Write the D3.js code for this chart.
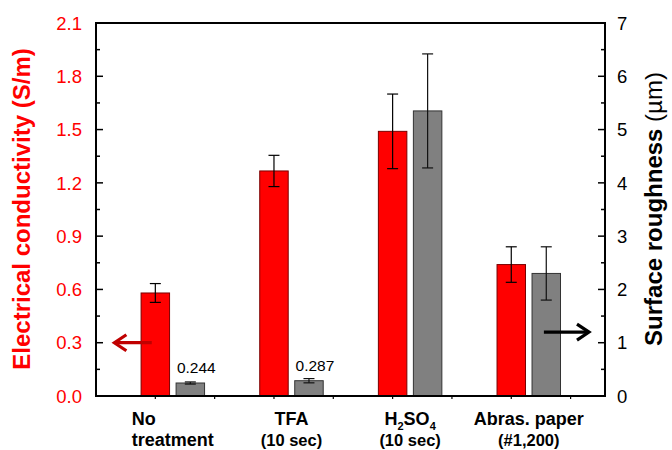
<!DOCTYPE html>
<html><head><meta charset="utf-8">
<script src="https://cdn.jsdelivr.net/npm/d3@7"></script>
<style>body{margin:0;background:#fff} svg{display:block} text{font-family:"Liberation Sans",Arial,sans-serif}</style>
</head><body><svg id="c" width="672" height="450"></svg>
<script>
// ---- data ----
const categories = ["No treatment", "TFA (10 sec)", "H2SO4 (10 sec)", "Abras. paper (#1,200)"];
const conductivity = [0.58, 1.267, 1.49, 0.74];
const conductivityErr = [0.053, 0.088, 0.21, 0.10];
const roughness = [0.244, 0.287, 5.35, 2.30];
const roughnessErr = [0.02, 0.04, 1.07, 0.50];
const roughnessLabels = ["0.244", "0.287", "", ""];
const leftTicks = [0, 0.3, 0.6, 0.9, 1.2, 1.5, 1.8, 2.1];
const rightTicks = [0, 1, 2, 3, 4, 5, 6, 7];
const xTicks = [1, 2, 3, 4, 5, 6, 7, 8];

const svg = d3.select("#c");
const L = 96, R = 605, T = 23, B = 396;
const x = d3.scaleLinear().domain([0, 8.58]).range([L, R]);
const yL = d3.scaleLinear().domain([0, 2.1]).range([B, T]);
const yR = d3.scaleLinear().domain([0, 7]).range([B, T]);
const bw = 0.48;
const redC = i => 2 * i + 1;
const grayC = i => 2 * i + 1.59;

// bars
const g = svg.append("g");
g.selectAll("rect.red").data(conductivity).join("rect")
  .attr("x", (d, i) => x(redC(i) - bw / 2)).attr("width", x(bw) - x(0))
  .attr("y", d => yL(d)).attr("height", d => B - yL(d))
  .attr("fill", "#ff0000").attr("stroke", "#7a0000").attr("stroke-width", 1);
g.selectAll("rect.gray").data(roughness).join("rect")
  .attr("x", (d, i) => x(grayC(i) - bw / 2)).attr("width", x(bw) - x(0))
  .attr("y", d => yR(d)).attr("height", d => B - yR(d))
  .attr("fill", "#808080").attr("stroke", "#333").attr("stroke-width", 1);

// error bars
function errBars(vals, errs, yS, cFn, col) {
  vals.forEach((v, i) => {
    const cx = x(cFn(i)), y1 = yS(v + errs[i]), y2 = yS(v - errs[i]);
    const e = svg.append("g").attr("stroke", col).attr("stroke-width", 1.2);
    e.append("line").attr("x1", cx).attr("x2", cx).attr("y1", y1).attr("y2", y2);
    e.append("line").attr("x1", cx - 5.5).attr("x2", cx + 5.5).attr("y1", y1).attr("y2", y1);
    e.append("line").attr("x1", cx - 5.5).attr("x2", cx + 5.5).attr("y1", y2).attr("y2", y2);
  });
}
errBars(conductivity, conductivityErr, yL, redC, "#000");
errBars(roughness, roughnessErr, yR, grayC, "#111");

// value labels
svg.selectAll("text.vl").data(roughness).join("text")
  .attr("x", (d, i) => x(grayC(i)) + 6).attr("y", d => yR(d) - 10)
  .attr("text-anchor", "middle").attr("font-size", 15.5).attr("fill", "#000")
  .text((d, i) => roughnessLabels[i]);

// frame
const fr = svg.append("g").attr("stroke", "#000").attr("stroke-width", 2).attr("fill", "none");
fr.append("path").attr("d", `M${L},${T}H${R}V${B}H${L}Z`);

// ticks (inward) major + minor
const minorL = d3.range(0, 2.1001, 0.15);
svg.append("g").selectAll("line").data(minorL).join("line")
  .attr("x1", L).attr("x2", (d, i) => L + (i % 2 === 0 ? 7 : 4))
  .attr("y1", d => yL(d)).attr("y2", d => yL(d)).attr("stroke", "#000").attr("stroke-width", 1.5);
const minorR = d3.range(0, 7.001, 0.5);
svg.append("g").selectAll("line").data(minorR).join("line")
  .attr("x1", R).attr("x2", (d, i) => R - (i % 2 === 0 ? 7 : 4))
  .attr("y1", d => yR(d)).attr("y2", d => yR(d)).attr("stroke", "#000").attr("stroke-width", 1.5);
svg.append("g").selectAll("line").data(xTicks).join("line")
  .attr("x1", d => x(d)).attr("x2", d => x(d)).attr("y1", B).attr("y2", B + 3)
  .attr("stroke", "#000").attr("stroke-width", 1.2);

// tick labels
svg.append("g").selectAll("text").data(leftTicks).join("text")
  .attr("x", L - 14).attr("y", d => yL(d)).attr("dy", "0.36em")
  .attr("text-anchor", "end").attr("font-size", 18.5).attr("fill", "#ff0000")
  .text(d => d.toFixed(1));
svg.append("g").selectAll("text").data(rightTicks).join("text")
  .attr("x", R + 12).attr("y", d => yR(d)).attr("dy", "0.36em")
  .attr("text-anchor", "start").attr("font-size", 18.5).attr("fill", "#000")
  .text(d => d);

// axis titles
svg.append("text").attr("transform", `translate(30,209) rotate(-90)`)
  .attr("text-anchor", "middle").attr("font-size", 24).attr("font-weight", "bold")
  .attr("fill", "#ff0000").text("Electrical conductivity (S/m)");
const rt = svg.append("text").attr("transform", `translate(662,209) rotate(-90)`)
  .attr("text-anchor", "middle").attr("font-size", 24).attr("fill", "#000");
rt.append("tspan").attr("font-weight", "bold").text("Surface roughness ");
rt.append("tspan").text("(\u00b5m)");

// category labels
const gc = i => x(2 * i + 1.295);
const line1 = 425, line2 = 446;
const t2 = svg.append("text").attr("x", gc(0)).attr("y", line2).attr("text-anchor", "middle")
  .attr("font-size", 18).attr("font-weight", "bold").text("treatment");
const tw = t2.node().getComputedTextLength();
svg.append("text").attr("x", gc(0) - tw / 2).attr("y", line1)
  .attr("font-size", 18).attr("font-weight", "bold").text("No");
svg.append("text").attr("x", gc(1)).attr("y", line1).attr("text-anchor", "middle")
  .attr("font-size", 18).attr("font-weight", "bold").text("TFA");
svg.append("text").attr("x", gc(1)).attr("y", line2).attr("text-anchor", "middle")
  .attr("font-size", 16.5).attr("font-weight", "bold").text("(10 sec)");
const h = svg.append("text").attr("x", gc(2)).attr("y", line1).attr("text-anchor", "middle")
  .attr("font-size", 18).attr("font-weight", "bold");
h.append("tspan").text("H");
h.append("tspan").attr("font-size", 11).attr("dy", 5).text("2");
h.append("tspan").attr("dy", -5).text("SO");
h.append("tspan").attr("font-size", 11).attr("dy", 5).text("4");
svg.append("text").attr("x", gc(2)).attr("y", line2).attr("text-anchor", "middle")
  .attr("font-size", 16.5).attr("font-weight", "bold").text("(10 sec)");
svg.append("text").attr("x", gc(3)).attr("y", line1).attr("text-anchor", "middle")
  .attr("font-size", 18).attr("font-weight", "bold").text("Abras. paper");
svg.append("text").attr("x", gc(3)).attr("y", line2).attr("text-anchor", "middle")
  .attr("font-size", 16.5).attr("font-weight", "bold").text("(#1,200)");

// arrows
function arrow(x1, x2, y, col) {
  const dir = Math.sign(x2 - x1);
  const a = svg.append("g").attr("stroke", col).attr("stroke-width", 3.2).attr("fill", "none")
    .attr("stroke-linecap", "butt").attr("stroke-linejoin", "miter");
  a.append("line").attr("x1", x1).attr("x2", x2 - dir * 1).attr("y1", y).attr("y2", y);
  a.append("path").attr("d", `M${x2 - dir * 12},${y - 8}L${x2},${y}L${x2 - dir * 12},${y + 8}`);
}
arrow(x(0.94), x(0.31), yL(0.3), "#c00000");
arrow(x(7.55), x(8.31), yR(1.2), "#000");
</script></body></html>
